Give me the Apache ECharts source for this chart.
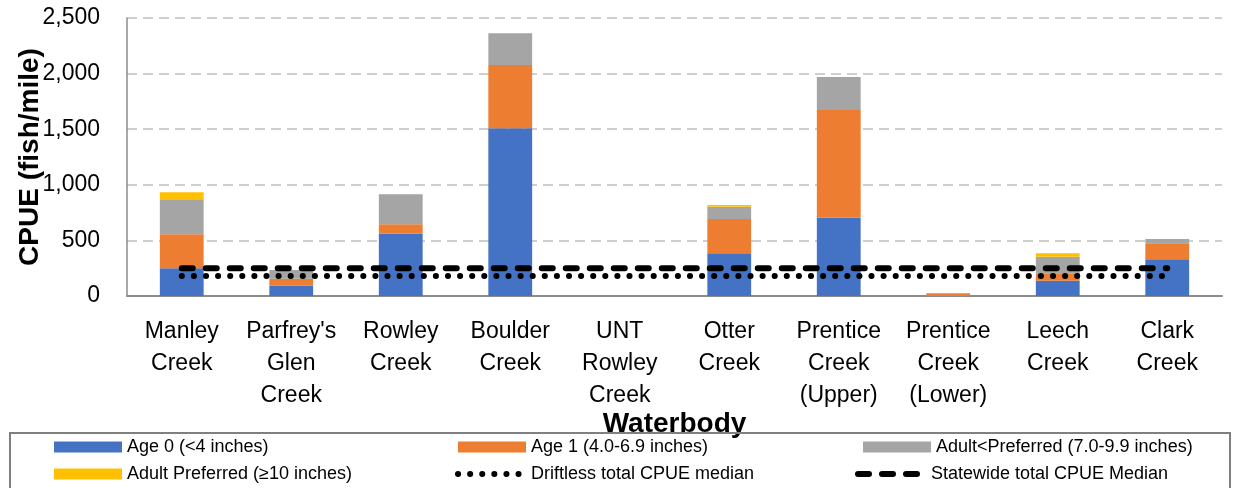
<!DOCTYPE html>
<html><head><meta charset="utf-8">
<script src="https://cdn.jsdelivr.net/npm/echarts@6/dist/echarts.min.js"></script>
<style>html,body{margin:0;padding:0;background:#fff}#c{width:1238px;height:488px}</style>
</head><body><div id="c"></div>
<script>
const categories = ["Manley\nCreek","Parfrey's\nGlen\nCreek","Rowley\nCreek","Boulder\nCreek","UNT\nRowley\nCreek","Otter\nCreek","Prentice\nCreek\n(Upper)","Prentice\nCreek\n(Lower)","Leech\nCreek","Clark\nCreek"];
const age0 = [250, 93, 563, 1508, 0, 384, 704, 0, 138, 330];
const age1 = [305, 63, 82, 569, 0, 308, 969, 25, 66, 144];
const adultLess = [315, 78, 269, 285, 0, 111, 296, 0, 150, 39];
const adultPref = [63, 0, 0, 0, 0, 15, 0, 0, 30, 0];
const driftless = [180, 180, 180, 180, 180, 180, 180, 180, 180, 180];
const statewide = [250, 250, 250, 250, 250, 250, 250, 250, 250, 250];
const yTicks = {min: 0, max: 2500, interval: 500};

const FONT = "Liberation Sans";
const N_AGE0 = 'Age 0 (<4 inches)', N_AGE1 = 'Age 1 (4.0-6.9 inches)', N_ADL = 'Adult<Preferred (7.0-9.9 inches)',
      N_ADP = 'Adult Preferred (≥10 inches)', N_DRIFT = 'Driftless total CPUE median', N_STATE = 'Statewide total CPUE Median';
const DOT = {color: '#000', width: 6, type: [0.1, 12], cap: 'round'};
const DASH = {color: '#000', width: 6, type: [11, 13], cap: 'round'};
const chart = echarts.init(document.getElementById('c'));
function lg(left, top, item) {
  return {left, top, itemWidth: 68, itemHeight: 11, padding: 0, selectedMode: false,
    textStyle: {fontSize: 18, color: '#000', fontFamily: FONT}, data: [item]};
}
chart.setOption({
  animation: false,
  textStyle: {fontFamily: FONT},
  grid: {left: 127, right: 16, top: 18, bottom: 192, containLabel: false, outerBoundsMode: 'none'},
  legend: [
    lg(54, 438, {name: N_AGE0, icon: 'rect'}),
    lg(54, 465, {name: N_ADP, icon: 'rect'}),
    lg(458, 438, {name: N_AGE1, icon: 'rect'}),
    lg(455, 465, {name: N_DRIFT, itemStyle: {opacity: 0}, lineStyle: DOT}),
    lg(863, 438, {name: N_ADL, icon: 'rect'}),
    lg(855, 465, {name: N_STATE, itemStyle: {opacity: 0}, lineStyle: DASH})
  ],
  graphic: [{type: 'rect', z: 10, shape: {x: 10, y: 433, width: 1220, height: 62}, style: {fill: 'none', stroke: '#808080', lineWidth: 2}, silent: true}],
  xAxis: {
    type: 'category', data: categories,
    name: 'Waterbody', nameLocation: 'middle', nameGap: 114, nameMoveOverlap: false,
    nameTextStyle: {fontSize: 28, fontWeight: 'bold', color: '#000', fontFamily: FONT},
    axisLine: {lineStyle: {color: '#8c8c8c', width: 2}},
    axisTick: {show: false},
    axisLabel: {fontSize: 23, color: '#000', lineHeight: 32, margin: 20, interval: 0, fontFamily: FONT}
  },
  yAxis: {
    type: 'value', min: yTicks.min, max: yTicks.max, interval: yTicks.interval,
    name: 'CPUE (fish/mile)', nameLocation: 'middle', nameGap: 83, nameMoveOverlap: false,
    nameTextStyle: {fontSize: 28, fontWeight: 'bold', color: '#000', fontFamily: FONT},
    axisLine: {show: true, lineStyle: {color: '#8c8c8c', width: 1.5}},
    axisTick: {show: false},
    axisLabel: {fontSize: 23, color: '#000', margin: 27, fontFamily: FONT, formatter: v => v.toLocaleString('en-US')},
    splitLine: {lineStyle: {color: '#cfcfcf', width: 2, type: [10, 6]}}
  },
  series: [
    {name: N_AGE0, type: 'bar', stack: 's', data: age0, barWidth: '40%', itemStyle: {color: '#4472C4'}},
    {name: N_AGE1, type: 'bar', stack: 's', data: age1, itemStyle: {color: '#ED7D31'}},
    {name: N_ADL, type: 'bar', stack: 's', data: adultLess, itemStyle: {color: '#A5A5A5'}},
    {name: N_ADP, type: 'bar', stack: 's', data: adultPref, itemStyle: {color: '#FFC000'}},
    {name: N_DRIFT, type: 'line', data: driftless, symbol: 'none', z: 5, itemStyle: {color: '#000'}, lineStyle: DOT},
    {name: N_STATE, type: 'line', data: statewide, symbol: 'none', z: 5, itemStyle: {color: '#000'}, lineStyle: DASH}
  ]
});
</script></body></html>
